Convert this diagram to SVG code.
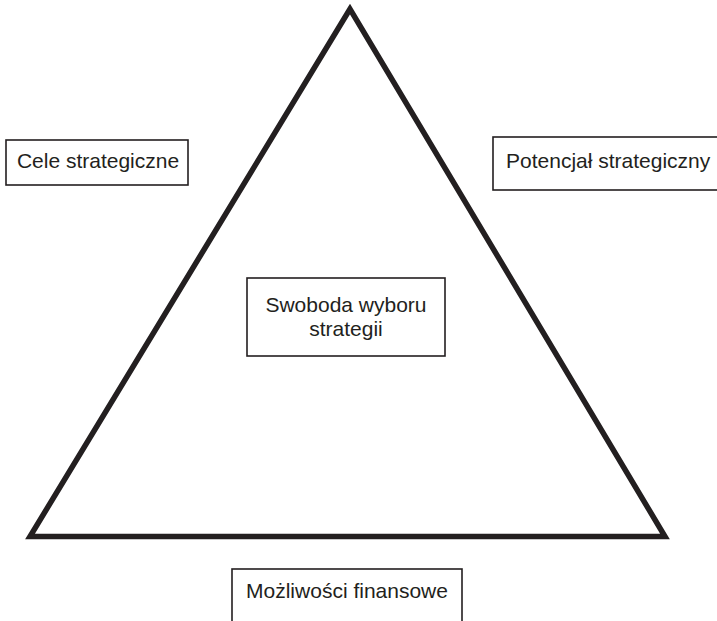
<svg xmlns="http://www.w3.org/2000/svg" width="717" height="621" viewBox="0 0 717 621">
  <style>
    .box { fill: #ffffff; stroke: #231f20; stroke-width: 1.6; }
    .lbl { font-family: "Liberation Sans", Arial, sans-serif; font-size: 21px; fill: #231f20; }
    .tri { fill: none; stroke: #231f20; stroke-width: 5.5; stroke-linejoin: miter; }
  </style>
  <rect width="717" height="621" fill="#ffffff"/>

  <g id="connectors">
    <polygon class="tri" points="350,9 30,536.5 665,536.5"/>
  </g>

  <g id="cele">
    <rect class="box" x="6" y="140" width="182" height="45"/>
    <text class="lbl" x="98" y="168" text-anchor="middle">Cele strategiczne</text>
  </g>

  <g id="potencjal">
    <rect class="box" x="493" y="137" width="230" height="53"/>
    <text class="lbl" x="506" y="168">Potencjał strategiczny</text>
  </g>

  <g id="swoboda">
    <rect class="box" x="247" y="278" width="198" height="78"/>
    <text class="lbl" x="346" y="312" text-anchor="middle">Swoboda wyboru</text>
    <text class="lbl" x="346" y="336" text-anchor="middle">strategii</text>
  </g>

  <g id="mozliwosci">
    <rect class="box" x="232" y="569" width="230" height="60"/>
    <text class="lbl" x="347" y="598" text-anchor="middle">Możliwości finansowe</text>
  </g>
</svg>
